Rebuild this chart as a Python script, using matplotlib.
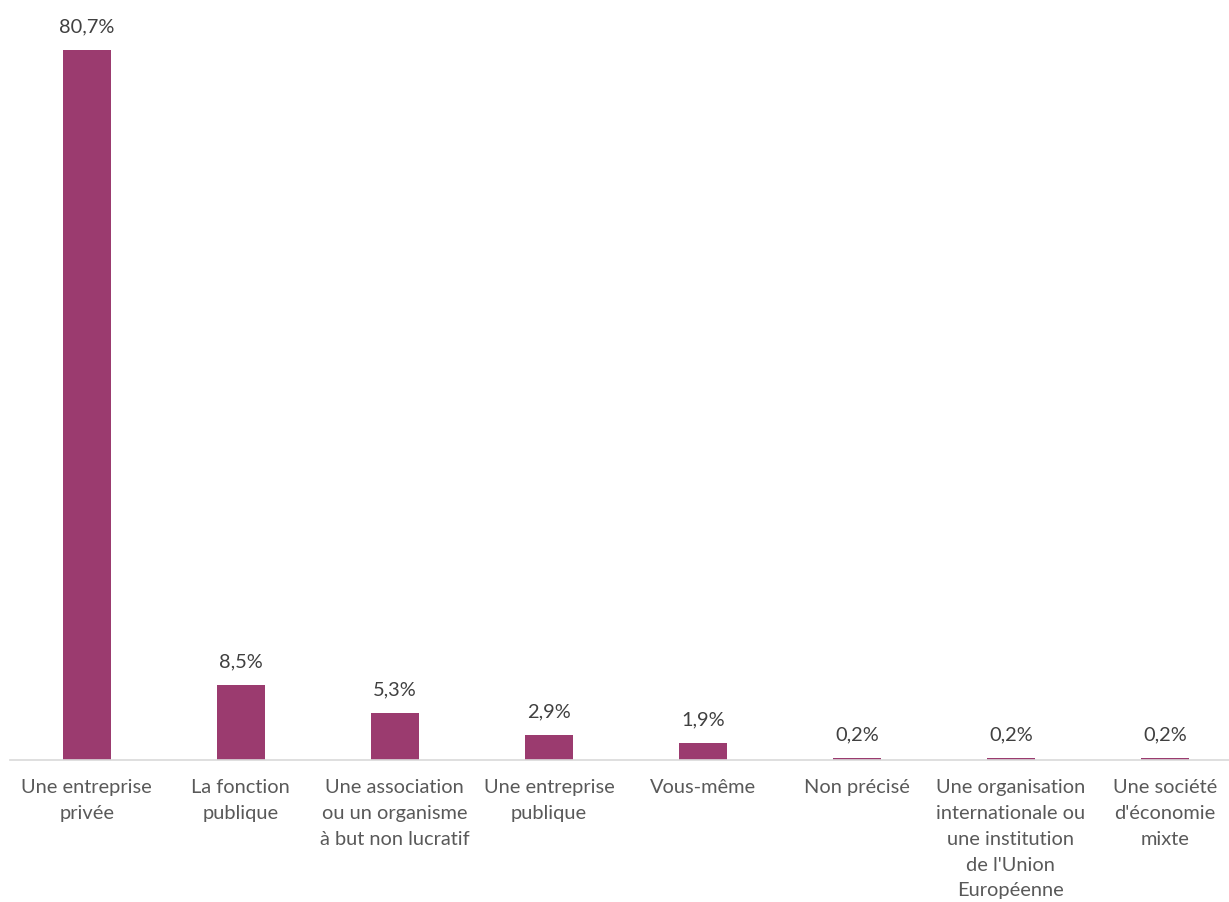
import matplotlib
matplotlib.use("Agg")
import matplotlib.pyplot as plt

plt.rcParams['font.family'] = ['Lato', 'DejaVu Sans']

categories = [
    "Une entreprise\nprivée",
    "La fonction\npublique",
    "Une association\nou un organisme\nà but non lucratif",
    "Une entreprise\npublique",
    "Vous-même",
    "Non précisé",
    "Une organisation\ninternationale ou\nune institution\nde l'Union\nEuropéenne",
    "Une société\nd'économie\nmixte",
]
values = [80.7, 8.5, 5.3, 2.9, 1.9, 0.2, 0.2, 0.2]
value_labels = ["80,7%", "8,5%", "5,3%", "2,9%", "1,9%", "0,2%", "0,2%", "0,2%"]

bar_color = "#9b3b6f"
text_color = "#595959"

fig = plt.figure(figsize=(12.29, 9.02), dpi=100)
ax = fig.add_axes([0.008, 0.1574, 0.992, 0.8426])

x = range(len(categories))
bars = ax.bar(x, values, width=0.31, color=bar_color)

for rect, lab in zip(bars, value_labels):
    ax.annotate(lab, (rect.get_x() + rect.get_width() / 2, rect.get_height()),
                xytext=(0, 10.5), textcoords="offset points", ha="center", va="bottom",
                fontsize=14.4, color="#404040")

ax.set_xlim(-0.5, 7.416)
ax.set_ylim(0, 86.4)
ax.set_xticks(list(x))
ax.set_xticklabels(categories, fontsize=14.4, color=text_color, linespacing=1.62, va="top")
ax.tick_params(axis="x", length=0, pad=14)
ax.set_yticks([])
for s in ["top", "right", "left"]:
    ax.spines[s].set_visible(False)
ax.spines["bottom"].set_color("#d9d9d9")
ax.spines["bottom"].set_linewidth(1.2)

fig.savefig("out.png", dpi=100)
